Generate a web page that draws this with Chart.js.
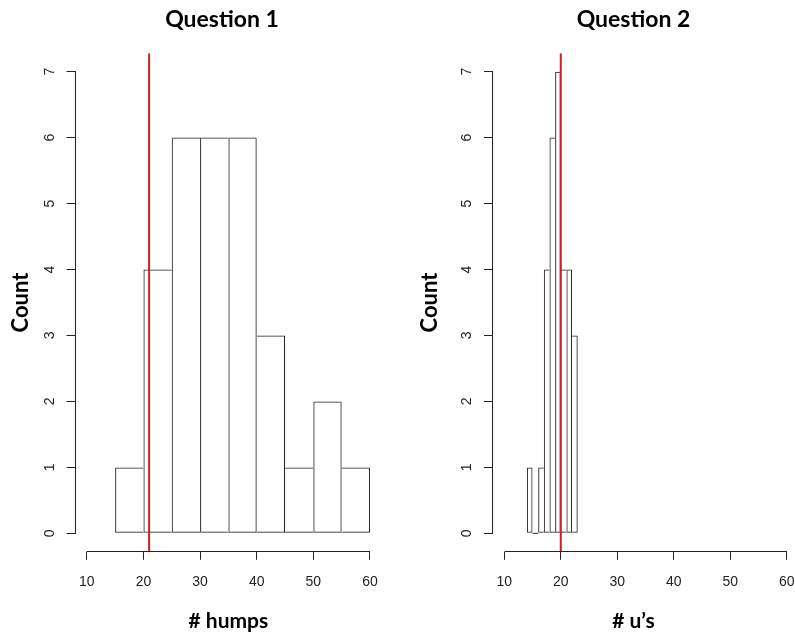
<!DOCTYPE html>
<html>
<head>
<meta charset="utf-8">
<script src="https://cdn.jsdelivr.net/npm/chart.js@4/dist/chart.umd.min.js"></script>
<style>
html,body{margin:0;padding:0;background:#fff;overflow:hidden;width:795px;height:635px;}
#c1{position:absolute;left:0;top:0;}
#c2{position:absolute;left:410px;top:0;}
</style>
</head>
<body>
<canvas id="c1" width="444" height="635"></canvas>
<canvas id="c2" width="447" height="635"></canvas>
<script>
// ---- data ----
const q1Title = "Question 1";
const q1XLabel = "# humps";
const q1BinEdges = [15, 20, 25, 30, 35, 40, 45, 50, 55, 60];
const q1Counts = [1, 4, 6, 6, 6, 3, 1, 2, 1];
const q1Marker = 21;

const q2Title = "Question 2";
const q2XLabel = "# u\u2019s";
const q2BinEdges = [14, 15, 16, 17, 18, 19, 20, 21, 22, 23];
const q2Counts = [1, 0, 1, 4, 6, 7, 4, 4, 3];
const q2Marker = 20;

const yLabel = "Count";
const xTickValues = [10, 20, 30, 40, 50, 60];
const yTickValues = [0, 1, 2, 3, 4, 5, 6, 7];

// ---- helpers ----
const INK = '#222';
const RED = 'rgb(205,32,32)';
const ext = arr => { const a = arr[0], b = arr[arr.length - 1], p = 0.04 * (b - a); return [a - p, b + p]; };
const [X_MIN, X_MAX] = ext(xTickValues);
const [Y_MIN, Y_MAX] = ext(yTickValues);

function histPoints(edges, counts) {
  return counts.map((c, i) => ({ x: (edges[i] + edges[i + 1]) / 2, y: c }));
}
function histBorders(counts) {
  return ctx => {
    const i = ctx.dataIndex, h = counts[i];
    const prev = i > 0 ? counts[i - 1] : -1;
    const next = i < counts.length - 1 ? counts[i + 1] : -1;
    return { top: 1, bottom: 1, left: h >= prev ? 1 : 0, right: h > next ? 1 : 0 };
  };
}
function zeroBins(edges, counts) {
  const pts = [];
  counts.forEach((c, i) => {
    if (c === 0) {
      pts.push({ x: edges[i], y: 0 }, { x: edges[i + 1], y: 0 }, { x: edges[i + 1], y: null });
    }
  });
  return pts;
}

const axisLines = {
  id: 'axisLines',
  afterDraw(chart) {
    const ctx = chart.ctx, xs = chart.scales.x, ys = chart.scales.y;
    const al = v => Math.round(v - 0.5) + 0.5;
    const xt = xs.ticks, yt = ys.ticks;
    ctx.save();
    ctx.strokeStyle = INK;
    ctx.lineWidth = 1;
    ctx.beginPath();
    const yb = Math.round(xs.top) - 0.5;
    ctx.moveTo(al(xs.getPixelForValue(xt[0].value)), yb);
    ctx.lineTo(al(xs.getPixelForValue(xt[xt.length - 1].value)) + 0.5, yb);
    const xl = Math.round(ys.right) - 0.5;
    ctx.moveTo(xl, al(ys.getPixelForValue(yt[0].value)) + 0.5);
    ctx.lineTo(xl, al(ys.getPixelForValue(yt[yt.length - 1].value)));
    ctx.stroke();
    ctx.restore();
  }
};

function makeChart(canvas, p) {
  const datasets = [
    {
      type: 'line', order: 0,
      data: [{ x: p.marker, y: Y_MIN }, { x: p.marker, y: Y_MAX }],
      borderColor: RED, borderWidth: 2, pointRadius: 0, fill: false
    },
    {
      type: 'line', order: 1,
      data: zeroBins(p.edges, p.counts),
      borderColor: INK, borderWidth: 1, pointRadius: 0, fill: false, spanGaps: false
    },
    {
      type: 'bar', order: 2,
      data: histPoints(p.edges, p.counts),
      backgroundColor: 'rgba(0,0,0,0)',
      borderColor: INK,
      borderWidth: histBorders(p.counts),
      borderSkipped: false,
      inflateAmount: 0,
      barPercentage: 1,
      categoryPercentage: 1
    }
  ];
  return new Chart(canvas, {
    type: 'bar',
    data: { datasets },
    plugins: [axisLines],
    options: {
      responsive: false,
      animation: false,
      devicePixelRatio: 1,
      layout: { padding: 0 },
      plugins: {
        legend: { display: false },
        tooltip: { enabled: false },
        title: {
          display: true, text: p.title, color: '#000',
          font: { family: 'Lato', weight: 'bold', size: 23, lineHeight: 1.2 },
          padding: { top: 5.7, bottom: 19.9 }
        },
        subtitle: {
          display: !!p.bottomText, text: p.bottomText || '', position: 'bottom', color: '#000',
          font: { family: 'Lato', weight: 'bold', size: 21, lineHeight: 1.2 },
          padding: { top: 10, bottom: 0.7 }
        }
      },
      scales: {
        x: {
          type: 'linear', min: X_MIN, max: X_MAX, offset: false,
          afterBuildTicks: s => { s.ticks = xTickValues.map(v => ({ value: v })); },
          afterFit: s => { s.height = p.xHeight; },
          grid: { display: true, drawOnChartArea: false, drawTicks: true, tickLength: 8, color: INK, tickColor: INK, lineWidth: 1, offset: false },
          border: { display: false },
          ticks: { font: { family: 'Liberation Sans', size: 14 }, color: INK, padding: 13.5, maxRotation: 0, autoSkip: false },
          title: {
            display: !!p.xTitle, text: p.xTitle || '', color: '#000',
            font: { family: 'Lato', weight: 'bold', size: 21, lineHeight: 1.2 },
            padding: { top: 0, bottom: 0.7 }
          }
        },
        y: {
          type: 'linear', min: Y_MIN, max: Y_MAX,
          afterBuildTicks: s => { s.ticks = yTickValues.map(v => ({ value: v })); },
          afterFit: s => { s.width = p.yWidth; },
          grid: { display: true, drawOnChartArea: false, drawTicks: true, tickLength: 9, color: INK, tickColor: INK, lineWidth: 1 },
          border: { display: false },
          ticks: { font: { family: 'Liberation Sans', size: 14 }, color: INK, padding: p.yTickPad, minRotation: 90, maxRotation: 90, crossAlign: 'center', autoSkip: false },
          title: {
            display: true, text: yLabel, color: '#000',
            font: { family: 'Lato', weight: 'bold', size: 22, lineHeight: 1.2 },
            padding: { top: p.yTitlePad, bottom: 0 }
          }
        },
        yPad: {
          position: 'right', display: true,
          grid: { display: false }, border: { display: false }, ticks: { display: false },
          afterFit: s => { s.width = p.rightPad; }
        }
      }
    }
  });
}

makeChart(document.getElementById('c1'), {
  title: q1Title, xTitle: q1XLabel, bottomText: null,
  edges: q1BinEdges, counts: q1Counts, marker: q1Marker,
  xHeight: 83.2, yWidth: 75.5, rightPad: 62.7, yTickPad: 12.6, yTitlePad: 7.8
});
makeChart(document.getElementById('c2'), {
  title: q2Title, xTitle: null, bottomText: q2XLabel,
  edges: q2BinEdges, counts: q2Counts, marker: q2Marker,
  xHeight: 47.3, yWidth: 83, rightPad: 59, yTickPad: 13.1, yTitlePad: 6.8
});
</script>
</body>
</html>
